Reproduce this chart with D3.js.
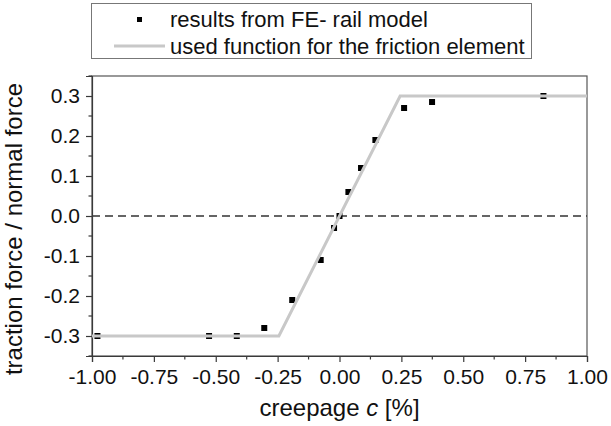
<!DOCTYPE html>
<html>
<head>
<meta charset="utf-8">
<script src="https://cdn.jsdelivr.net/npm/d3@7"></script>
<style>
  html, body { margin: 0; padding: 0; background: #fff; }
  svg { display: block; font-family: "Liberation Sans", Arial, sans-serif; }
</style>
</head>
<body>
<svg id="chart" width="611" height="426"></svg>
<script>
// ---- data ----
const feCreepage = [-0.978, -0.527, -0.415, -0.304, -0.191, -0.076, -0.022, 0.0, 0.036, 0.087, 0.145, 0.261, 0.374, 0.824];
const feRatio    = [-0.30, -0.30, -0.30, -0.28, -0.21, -0.11, -0.03, 0.0, 0.06, 0.12, 0.19, 0.27, 0.285, 0.30];
const fnCreepage = [-1.0, -0.245, 0.245, 1.0];
const fnRatio    = [-0.30, -0.30, 0.30, 0.30];
const xTicks = [-1.0, -0.75, -0.5, -0.25, 0.0, 0.25, 0.5, 0.75, 1.0];
const yTicks = [-0.3, -0.2, -0.1, 0.0, 0.1, 0.2, 0.3];
const legendLabels = ["results from FE- rail model", "used function for the friction element"];

const svg = d3.select("#chart");
const m = { left: 92, right: 587, top: 76, bottom: 356 };
const x = d3.scaleLinear().domain([-1, 1]).range([m.left, m.right]);
const y = d3.scaleLinear().domain([-0.35, 0.35]).range([m.bottom, m.top]);
const axisColor = "#3a3a3a";
const tickFont = 21;
const legendFont = 22;
const titleFont = 24;

// frame
svg.append("rect").attr("x", m.left).attr("y", m.top)
  .attr("width", m.right - m.left).attr("height", m.bottom - m.top)
  .attr("fill", "none").attr("stroke", "#555").attr("stroke-width", 1.2);

// zero dashed line
svg.append("line").attr("x1", x(-1)).attr("x2", x(1)).attr("y1", y(0)).attr("y2", y(0))
  .attr("stroke", "#333").attr("stroke-width", 1.6).attr("stroke-dasharray", "8,5");

// minor ticks
const xMinor = d3.range(-0.875, 1, 0.25);
const yMinor = [-0.35, -0.25, -0.15, -0.05, 0.05, 0.15, 0.25, 0.35];

const gx = svg.append("g").attr("transform", `translate(0,${m.bottom})`);
gx.call(d3.axisBottom(x).tickValues(xTicks).tickFormat(d3.format(".2f")).tickSize(6).tickPadding(7));
gx.select(".domain").attr("stroke", axisColor).attr("stroke-width", 1.2);
gx.selectAll(".tick line").attr("stroke", axisColor).attr("stroke-width", 1.2);
gx.selectAll(".tick text").attr("font-size", tickFont).attr("fill", "#111")
  .attr("font-family", '"Liberation Sans", Arial, sans-serif')
  .text(d => d3.format(".2f")(d).replace("−", "-"));
gx.selectAll(".minor").data(xMinor).enter().append("line").attr("class", "minor")
  .attr("x1", d => x(d)).attr("x2", d => x(d)).attr("y1", 0).attr("y2", 3.5)
  .attr("stroke", axisColor).attr("stroke-width", 1.2);

const gy = svg.append("g").attr("transform", `translate(${m.left},0)`);
gy.call(d3.axisLeft(y).tickValues(yTicks).tickFormat(d3.format(".1f")).tickSize(6).tickPadding(6));
gy.select(".domain").attr("stroke", axisColor).attr("stroke-width", 1.2);
gy.selectAll(".tick line").attr("stroke", axisColor).attr("stroke-width", 1.2);
gy.selectAll(".tick text").attr("font-size", tickFont).attr("fill", "#111")
  .attr("font-family", '"Liberation Sans", Arial, sans-serif')
  .text(d => d3.format(".1f")(d).replace("−", "-"));
gy.selectAll(".minor").data(yMinor).enter().append("line").attr("class", "minor")
  .attr("y1", d => y(d)).attr("y2", d => y(d)).attr("x1", 0).attr("x2", -3.5)
  .attr("stroke", axisColor).attr("stroke-width", 1.2);

// FE points (drawn under the function line)
const sz = 6;
svg.append("g").selectAll("rect").data(feCreepage).enter().append("rect")
  .attr("x", (d) => x(d) - sz / 2)
  .attr("y", (d, i) => y(feRatio[i]) - sz / 2)
  .attr("width", sz).attr("height", sz).attr("fill", "#000");

// function line
const fnData = fnCreepage.map((c, i) => [c, fnRatio[i]]);
svg.append("path").datum(fnData)
  .attr("d", d3.line().x(d => x(d[0])).y(d => y(d[1])))
  .attr("fill", "none").attr("stroke", "#c8c8c8").attr("stroke-width", 3);

// axis titles
const xt = svg.append("text").attr("x", (m.left + m.right) / 2).attr("y", 416)
  .attr("text-anchor", "middle").attr("font-size", titleFont).attr("fill", "#111");
xt.append("tspan").text("creepage ");
xt.append("tspan").attr("font-style", "italic").text("c");
xt.append("tspan").text(" [%]");

svg.append("text").attr("transform", "translate(22,229) rotate(-90)")
  .attr("text-anchor", "middle").attr("font-size", titleFont).attr("fill", "#111")
  .text("traction force / normal force");

// legend
const lg = svg.append("g");
lg.append("rect").attr("x", 91.5).attr("y", 3.5).attr("width", 440).attr("height", 55)
  .attr("fill", "#fff").attr("stroke", "#777").attr("stroke-width", 1);
lg.append("rect").attr("x", 139.5 - 2.5).attr("y", 19.5 - 2.5).attr("width", 5).attr("height", 5).attr("fill", "#000");
lg.append("line").attr("x1", 114).attr("x2", 165).attr("y1", 46).attr("y2", 46)
  .attr("stroke", "#c8c8c8").attr("stroke-width", 3);
lg.selectAll("text.lab").data(legendLabels).enter().append("text").attr("class", "lab")
  .attr("x", 170).attr("y", (d, i) => 27 + i * 26.5)
  .attr("font-size", legendFont).attr("fill", "#111").text(d => d);
</script>
</body>
</html>
